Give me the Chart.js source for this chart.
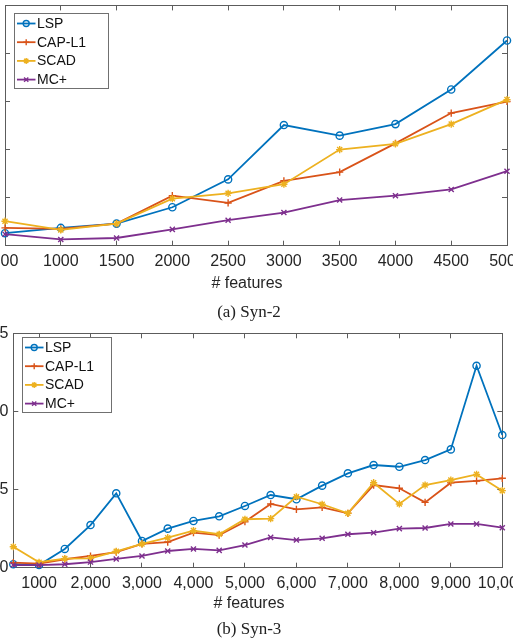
<!DOCTYPE html>
<html><head><meta charset="utf-8">
<script src="https://cdn.jsdelivr.net/npm/chart.js@4/dist/chart.umd.min.js"></script>
<style>
html,body{margin:0;padding:0;background:#fff;}
body{width:513px;height:639px;overflow:hidden;position:relative;}
canvas{position:absolute;}
.lbl{position:absolute;font-family:"Liberation Sans",Arial,sans-serif;font-size:16px;color:#262626;white-space:nowrap;transform:translate(-50%,-50%);}
.cap{position:absolute;font-family:"Liberation Serif","Times New Roman",serif;font-size:17px;color:#222;white-space:nowrap;transform:translate(-50%,-50%);}
</style></head><body>
<canvas id="c1" width="600" height="280" style="left:-40px;top:0"></canvas>
<canvas id="c2" width="580" height="280" style="left:-30px;top:320px"></canvas>
<div class="lbl" style="left:247px;top:283px"># features</div>
<div class="cap" style="left:249px;top:312px">(a) Syn-2</div>
<div class="lbl" style="left:249px;top:603px"># features</div>
<div class="cap" style="left:249px;top:629px">(b) Syn-3</div>
<script>
// ---------- data ----------
const seriesNames = ['LSP', 'CAP-L1', 'SCAD', 'MC+'];

// (a) Syn-2
const features2 = [500, 1000, 1500, 2000, 2500, 3000, 3500, 4000, 4500, 5000];
const xTicks2 = [500, 1000, 1500, 2000, 2500, 3000, 3500, 4000, 4500, 5000];
const xTickLabels2 = ['500', '1000', '1500', '2000', '2500', '3000', '3500', '4000', '4500', '5000'];
const lsp2  = [0.26, 0.37, 0.46, 0.80, 1.38, 2.51, 2.29, 2.53, 3.25, 4.27];
const cap2  = [0.37, 0.35, 0.46, 1.04, 0.89, 1.35, 1.53, 2.13, 2.76, 3.00];
const scad2 = [0.51, 0.33, 0.46, 0.98, 1.09, 1.28, 2.00, 2.12, 2.53, 3.04];
const mcp2  = [0.24, 0.13, 0.16, 0.34, 0.53, 0.69, 0.95, 1.04, 1.17, 1.55];

// (b) Syn-3
const features3 = [500, 1000, 1500, 2000, 2500, 3000, 3500, 4000, 4500, 5000,
                   5500, 6000, 6500, 7000, 7500, 8000, 8500, 9000, 9500, 10000];
const xTicks3 = [1000, 2000, 3000, 4000, 5000, 6000, 7000, 8000, 9000, 10000];
const xTickLabels3 = ['1000', '2,000', '3,000', '4,000', '5,000', '6,000', '7,000', '8,000', '9,000', '10,000'];
const lsp3  = [0.22, 0.17, 1.20, 2.73, 4.76, 1.71, 2.50, 2.99, 3.29, 3.95, 4.65, 4.38, 5.25, 6.04, 6.57, 6.46, 6.89, 7.57, 12.92, 8.49];
const cap3  = [0.32, 0.26, 0.54, 0.75, 1.00, 1.52, 1.64, 2.24, 2.09, 2.94, 4.08, 3.73, 3.86, 3.48, 5.29, 5.08, 4.18, 5.44, 5.55, 5.72];
const scad3 = [1.34, 0.35, 0.58, 0.60, 1.05, 1.52, 1.92, 2.37, 2.14, 3.10, 3.14, 4.54, 4.06, 3.48, 5.44, 4.08, 5.29, 5.61, 5.97, 4.93];
const mcp3  = [0.17, 0.17, 0.22, 0.36, 0.56, 0.75, 1.07, 1.20, 1.11, 1.45, 1.94, 1.77, 1.88, 2.14, 2.24, 2.50, 2.54, 2.80, 2.80, 2.56];

// ---------- styling ----------
const FONT = '"Liberation Sans", Arial, sans-serif';
const AX = '#5c5c5c';
const TXT = '#262626';
const COLORS = ['#0072BD', '#D95319', '#EDB120', '#7E2F8E'];
const STYLES = ['circle', 'cross', 'star', 'crossRot'];

function makeDatasets(xs, arrays) {
  return arrays.map((arr, i) => ({
    label: seriesNames[i],
    data: xs.map((x, j) => ({x: x, y: arr[j]})),
    borderColor: COLORS[i],
    backgroundColor: COLORS[i],
    borderWidth: 1.8,
    pointStyle: STYLES[i],
    pointRadius: 3.6,
    pointBorderWidth: 1.4,
    pointBackgroundColor: 'rgba(0,0,0,0)',
    pointBorderColor: COLORS[i],
    tension: 0,
    clip: 10,
    order: 4 - i,
    xAxisID: 'x',
    yAxisID: 'y'
  }));
}

function xScale(min, max, ticks, labels, pos, h) {
  return {
    type: 'linear', axis: 'x', position: pos, min: min, max: max,
    afterBuildTicks: s => { s.ticks = ticks.map(v => ({value: v})); },
    afterFit: s => { s.height = h; s.paddingLeft = 0; s.paddingRight = 0; },
    ticks: {
      display: pos === 'bottom', padding: 11, maxRotation: 0, autoSkip: false,
      font: {family: FONT, size: 16}, color: TXT,
      callback: (v, i) => labels[i]
    },
    grid: {drawOnChartArea: false, drawTicks: true, tickLength: -5, color: AX, lineWidth: 1},
    border: {display: true, color: AX, width: 1}
  };
}

function yScale(min, max, step, pos, w) {
  return {
    type: 'linear', axis: 'y', position: pos, min: min, max: max,
    afterFit: s => { s.width = w; s.paddingTop = 0; s.paddingBottom = 0; },
    ticks: {
      display: pos === 'left', stepSize: step, padding: 10,
      font: {family: FONT, size: 16}, color: TXT
    },
    grid: {drawOnChartArea: false, drawTicks: true, tickLength: -5, color: AX, lineWidth: 1},
    border: {display: true, color: AX, width: 1}
  };
}

const boxLegend = {
  id: 'boxLegend',
  afterDraw(chart, args, opts) {
    const ctx = chart.ctx, a = chart.chartArea;
    const x0 = Math.round(a.left + opts.dx), y0 = Math.round(a.top + opts.dy), w = opts.w, h = opts.h;
    ctx.save();
    ctx.fillStyle = '#fff';
    ctx.fillRect(x0, y0, w, h);
    ctx.strokeStyle = '#707070';
    ctx.lineWidth = 1;
    ctx.strokeRect(x0 + 0.5, y0 + 0.5, w, h);
    chart.data.datasets.forEach((ds, i) => {
      const y = y0 + 10.5 + i * 18.7;
      ctx.strokeStyle = ds.borderColor;
      ctx.lineWidth = ds.borderWidth;
      ctx.beginPath(); ctx.moveTo(x0 + 3, y); ctx.lineTo(x0 + 21.5, y); ctx.stroke();
      ctx.fillStyle = ds.pointBackgroundColor;
      ctx.lineWidth = ds.pointBorderWidth;
      if (Chart.helpers && Chart.helpers.drawPoint) {
        Chart.helpers.drawPoint(ctx, {pointStyle: ds.pointStyle, radius: 3, borderWidth: ds.pointBorderWidth, rotation: 0}, x0 + 12.2, y);
      }
      ctx.fillStyle = '#111';
      ctx.font = '14px ' + FONT;
      ctx.textBaseline = 'middle';
      ctx.textAlign = 'left';
      ctx.fillText(ds.label, x0 + 23, y + 0.5);
    });
    ctx.restore();
  }
};

// (a) Syn-2 : chart area in canvas coords left 45, right 547, top 5, bottom 245.7
new Chart(document.getElementById('c1'), {
  type: 'line',
  data: {datasets: makeDatasets(features2, [lsp2, cap2, scad2, mcp2])},
  options: {
    responsive: false, animation: false, devicePixelRatio: 1,
    layout: {padding: {left: 0, right: 53, top: 5, bottom: 0}},
    plugins: {legend: {display: false}, tooltip: {enabled: false},
              boxLegend: {dx: 9, dy: 8, w: 94, h: 75}},
    scales: {
      x: xScale(500, 5000, xTicks2, xTickLabels2, 'bottom', 34.3),
      x2: xScale(500, 5000, xTicks2, xTickLabels2, 'top', 0),
      y: yScale(0, 5, 1, 'left', 45),
      y2: yScale(0, 5, 1, 'right', 0)
    }
  },
  plugins: [boxLegend]
});

// (b) Syn-3 : chart area in canvas coords left 43.3, right 532.3, top 13.3, bottom 247.7
new Chart(document.getElementById('c2'), {
  type: 'line',
  data: {datasets: makeDatasets(features3, [lsp3, cap3, scad3, mcp3])},
  options: {
    responsive: false, animation: false, devicePixelRatio: 1,
    layout: {padding: {left: 0, right: 47.7, top: 13.3, bottom: 0}},
    plugins: {legend: {display: false}, tooltip: {enabled: false},
              boxLegend: {dx: 8.4, dy: 3.4, w: 89, h: 75}},
    scales: {
      x: xScale(500, 10000, xTicks3, xTickLabels3, 'bottom', 32.3),
      x2: xScale(500, 10000, xTicks3, xTickLabels3, 'top', 0),
      y: yScale(0, 15, 5, 'left', 43.3),
      y2: yScale(0, 15, 5, 'right', 0)
    }
  },
  plugins: [boxLegend]
});
</script>
</body></html>
